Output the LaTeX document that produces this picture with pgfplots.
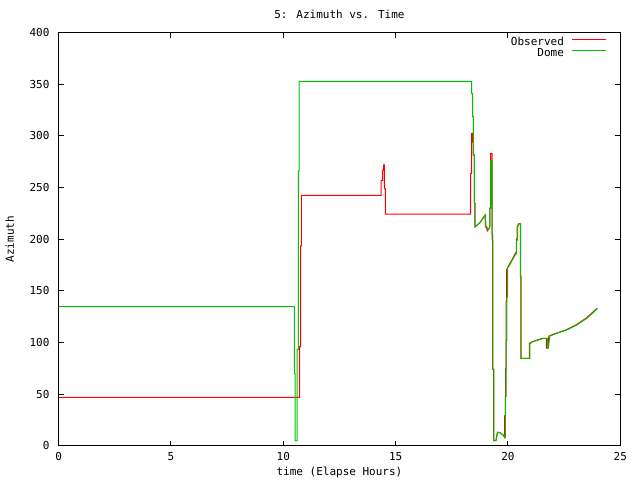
\documentclass[border=0pt]{standalone}
\usepackage{fontspec}
\setmainfont{DejaVu Sans Mono}
\usepackage{pgfplots}
\pgfplotsset{compat=1.18}
\definecolor{gpred}{RGB}{255,0,0}
\definecolor{gpgreen}{RGB}{0,192,0}
\begin{document}
\begin{tikzpicture}
\useasboundingbox (0,0) rectangle (640pt,480pt);
\begin{axis}[
  at={(58.6pt,34.3pt)}, anchor=south west,
  scale only axis, width=561.7pt, height=413pt,
  xmin=0, xmax=25, ymin=0, ymax=400,
  xtick={0,5,10,15,20,25}, ytick={0,50,100,150,200,250,300,350,400},
  minor tick num=0,
  tick align=inside, tick pos=both, major tick length=5pt,
  every tick/.style={black, line width=1pt},
  axis line style={black, line width=1pt},
  font=\fontsize{11}{13}\selectfont,
  /pgf/number format/assume math mode=true,
  xticklabel style={anchor=base, inner sep=0pt, yshift=-15pt},
  yticklabel style={anchor=east, inner sep=0pt, xshift=-9pt},
  title={5: Azimuth vs. Time},
  every axis title shift=0pt,
  title style={at={(axis description cs:0.5,1)}, anchor=base, yshift=14.4pt, inner sep=0pt},
  xlabel={time (Elapse Hours)},
  xlabel style={at={(axis description cs:0.5,0)}, anchor=base, yshift=-29.8pt, inner sep=0pt},
  ylabel={Azimuth},
  ylabel style={at={(axis description cs:-0.0794,0.5)}, anchor=base, inner sep=0pt},
  legend style={draw=none, fill=none, inner sep=0pt,
    at={(axis description cs:0.9763,0.9855)}, anchor=north east,
    nodes={inner sep=0pt, text height=7pt, text depth=0pt},
    /tikz/column sep=7.7pt, /tikz/row sep=3.6pt},
  legend plot pos=right, legend cell align=right,
]
\addlegendimage{legend image code/.code={\draw[gpred, line width=1.2pt] (0pt,3pt) -- (34pt,3pt);}}
\addlegendentry{Observed}
\addlegendimage{legend image code/.code={\draw[gpgreen, line width=1.2pt] (0pt,3pt) -- (34pt,3pt);}}
\addlegendentry{Dome}
\addplot[color=gpred, line width=1pt, forget plot] coordinates {
(0,46.9)(10.73,46.9)(10.73,96)(10.77,96)(10.77,193.5)(10.80,193.5)(10.80,242.5)
(14.36,242.5)(14.36,257)(14.42,257)(14.42,267)(14.47,267)(14.47,272)(14.50,272)(14.50,249)(14.54,249)(14.54,224.4)
(18.34,224.4)(18.34,263.8)(18.38,263.8)(18.38,302.5)(18.43,302.5)(18.43,294)(18.46,294)(18.46,281.6)(18.50,281.6)(18.50,234.8)(18.53,234.8)(18.53,212)
(18.75,216)(18.98,223.4)(19.00,212)(19.04,212)(19.08,208)(19.15,210)(19.19,212)(19.19,230)(19.23,230)(19.23,283)(19.29,283)(19.29,205)(19.32,205)(19.32,74)(19.36,74)(19.36,4.8)
(19.46,4.8)(19.53,13)(19.65,12.5)(19.78,10.4)(19.85,8)(19.85,29)(19.88,29)(19.88,47.5)(19.90,47.5)(19.90,75)(19.92,75)(19.92,140)(19.94,140)(19.94,170)
(19.97,172)(20.10,177)(20.25,183)(20.35,187)(20.37,187)(20.37,200)(20.41,200)(20.41,212)(20.48,215)(20.55,215)(20.55,164)(20.58,164)(20.58,84.6)
(20.95,84.6)(20.95,99)(21.08,100.7)(21.31,102.4)(21.53,104)(21.71,104)(21.71,94.6)(21.77,94.6)(21.82,106.2)(22.13,108.8)(22.57,112)(23.02,116.9)(23.47,123.4)(23.80,129.8)(23.97,133)
};
\addplot[color=gpgreen, line width=1pt, forget plot] coordinates {
(0,134.6)(10.49,134.6)(10.49,70)(10.53,70)(10.53,5)(10.62,5)(10.62,93)(10.67,93)(10.67,266)(10.71,266)(10.71,352.9)
(18.38,352.9)(18.38,341)(18.43,341)(18.43,318.7)(18.46,318.7)(18.46,281.6)(18.50,281.6)(18.50,234.8)(18.54,234.8)(18.54,212)
(18.75,216)(19.00,223.4)(19.02,212)(19.05,212)(19.12,209.6)(19.16,210)(19.20,212)(19.20,230)(19.24,230)(19.24,276)(19.30,276)(19.30,199)(19.33,199)(19.33,74)(19.37,74)(19.37,4.8)
(19.47,4.8)(19.54,13)(19.65,12.5)(19.79,10.4)(19.87,8)(19.89,8)(19.89,47.5)(19.92,47.5)(19.92,102)(19.95,102)(19.95,144)(19.98,144)(19.98,172)
(20.10,176)(20.25,182)(20.36,186)(20.39,186)(20.39,199)(20.43,199)(20.43,212)(20.50,215)(20.56,215)(20.56,164)(20.59,164)(20.59,84.6)
(20.98,84.6)(20.98,99)(21.11,100.7)(21.35,102.4)(21.57,104)(21.75,104)(21.75,94.6)(21.80,94.6)(21.86,106.2)(22.17,108.8)(22.61,112)(23.06,116.9)(23.51,123.4)(23.84,129.8)(23.99,133)
};
\end{axis}
\end{tikzpicture}
\end{document}
